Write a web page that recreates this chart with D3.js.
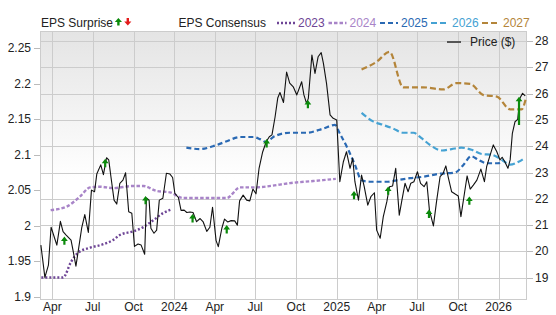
<!DOCTYPE html>
<html>
<head>
<meta charset="utf-8">
<script src="https://cdn.jsdelivr.net/npm/d3@7"></script>
<style>
  body { margin: 0; background: #fff; }
  text { font-family: "Liberation Sans", Arial, sans-serif; font-size: 12px; fill: #222; }
</style>
</head>
<body>
<svg id="chart" width="556" height="315"></svg>
<script>
// weekly closing price ($, right axis)
const priceData = [
  ["2023-03-06",20.24],["2023-03-15",19.01],["2023-03-23",19.48],["2023-03-29",20.92],["2023-04-06",20.50],
  ["2023-04-11",20.24],["2023-04-19",21.14],["2023-04-25",20.75],["2023-05-02",20.62],["2023-05-13",20.43],
  ["2023-05-18",19.99],["2023-05-24",19.44],["2023-05-29",19.99],["2023-06-06",20.89],["2023-06-13",21.40],
  ["2023-06-21",20.72],["2023-06-28",22.33],["2023-07-05",22.27],["2023-07-10",22.94],["2023-07-19",23.29],
  ["2023-07-25",22.92],["2023-08-01",23.56],["2023-08-06",23.48],["2023-08-11",22.83],["2023-08-18",21.95],
  ["2023-08-24",21.80],["2023-08-31",22.59],["2023-09-07",22.71],["2023-09-13",22.99],["2023-09-20",21.51],
  ["2023-09-27",21.45],["2023-10-03",20.19],["2023-10-11",20.28],["2023-10-18",20.24],["2023-10-26",19.89],
  ["2023-10-30",22.03],["2023-11-05",21.95],["2023-11-09",20.88],["2023-11-16",20.69],["2023-11-22",20.81],
  ["2023-11-28",21.95],["2023-12-06",22.02],["2023-12-14",22.97],["2023-12-22",22.94],["2023-12-28",22.81],
  ["2024-01-02",22.21],["2024-01-10",22.05],["2024-01-16",21.56],["2024-01-23",21.57],["2024-01-29",21.48],
  ["2024-02-05",21.50],["2024-02-12",21.48],["2024-02-20",21.13],["2024-02-28",21.25],["2024-03-06",21.12],
  ["2024-03-14",20.76],["2024-03-21",20.92],["2024-03-27",21.68],["2024-04-04",20.41],["2024-04-09",20.18],
  ["2024-04-17",20.88],["2024-04-23",21.23],["2024-04-30",21.12],["2024-05-08",21.17],["2024-05-16",21.16],
  ["2024-05-22",21.00],["2024-05-27",21.92],["2024-06-04",22.14],["2024-06-12",21.95],["2024-06-19",21.92],
  ["2024-06-26",22.37],["2024-07-03",22.19],["2024-07-10",23.17],["2024-07-18",23.78],["2024-07-26",24.17],
  ["2024-08-02",24.36],["2024-08-08",24.43],["2024-08-15",25.11],["2024-08-21",25.83],["2024-08-26",26.04],
  ["2024-09-03",25.66],["2024-09-10",26.82],["2024-09-17",26.40],["2024-09-25",26.26],["2024-10-03",25.95],
  ["2024-10-14",26.45],["2024-10-19",25.95],["2024-10-25",25.63],["2024-10-29",25.82],["2024-11-06",27.47],
  ["2024-11-13",26.77],["2024-11-20",27.40],["2024-11-27",27.56],["2024-12-02",27.15],["2024-12-09",26.39],
  ["2024-12-17",25.19],["2024-12-24",25.06],["2025-01-01",25.00],["2025-01-08",22.65],["2025-01-16",23.41],
  ["2025-01-23",23.79],["2025-01-31",23.16],["2025-02-06",23.54],["2025-02-11",22.65],["2025-02-19",21.95],
  ["2025-02-26",22.90],["2025-03-04",22.46],["2025-03-12",21.76],["2025-03-19",22.08],["2025-03-27",22.23],
  ["2025-04-01",20.81],["2025-04-09",20.50],["2025-04-16",21.32],["2025-04-24",21.89],["2025-04-30",22.46],
  ["2025-05-07",22.49],["2025-05-14",23.16],["2025-05-22",21.38],["2025-05-28",21.95],["2025-06-04",22.59],
  ["2025-06-11",22.27],["2025-06-17",22.59],["2025-06-24",22.65],["2025-07-02",23.03],["2025-07-09",22.59],
  ["2025-07-17",22.46],["2025-07-23",22.65],["2025-07-29",21.57],["2025-08-07",20.97],["2025-08-14",21.89],
  ["2025-08-22",22.84],["2025-08-29",22.97],["2025-09-04",23.25],["2025-09-10",22.78],["2025-09-17",22.27],
  ["2025-09-25",22.18],["2025-10-02",22.11],["2025-10-08",21.32],["2025-10-16",22.21],["2025-10-22",22.87],
  ["2025-10-29",22.37],["2025-11-05",22.52],["2025-11-13",22.71],["2025-11-22",23.13],["2025-11-30",22.65],
  ["2025-12-05",23.22],["2025-12-13",23.67],["2025-12-20",24.05],["2025-12-28",23.79],["2026-01-04",23.48],
  ["2026-01-09",23.58],["2026-01-15",23.41],["2026-01-22",23.16],["2026-01-27",23.48],["2026-02-01",24.49],
  ["2026-02-07",24.93],["2026-02-13",25.02],["2026-02-18",25.82],["2026-02-24",26.01],["2026-03-02",25.91]
]

// EPS consensus per fiscal year (left axis)
const eps2023 = [
  ["2023-03-07",1.927],["2023-04-25",1.927],["2023-05-13",1.949],["2023-05-29",1.962],["2023-06-25",1.969],
  ["2023-07-25",1.974],["2023-08-16",1.980],["2023-08-31",1.987],["2023-09-30",1.992],["2023-10-23",1.998],
  ["2023-11-15",2.008],["2023-12-07",2.018],["2023-12-26",2.023]
]
const eps2024 = [
  ["2023-03-28",2.022],["2023-05-03",2.027],["2023-06-02",2.041],["2023-06-25",2.054],["2023-07-17",2.055],
  ["2023-08-16",2.053],["2023-09-30",2.056],["2023-10-23",2.056],["2023-11-22",2.049],["2023-12-22",2.047],
  ["2024-01-21",2.039],["2024-02-28",2.039],["2024-04-28",2.039],["2024-05-28",2.054],["2024-06-27",2.054],
  ["2024-08-26",2.058],["2024-09-17",2.060],["2024-11-09",2.063],["2024-12-30",2.066]
]
const eps2025 = [
  ["2024-01-28",2.110],["2024-02-28",2.108],["2024-03-28",2.112],["2024-04-28",2.119],["2024-05-28",2.125],
  ["2024-06-27",2.125],["2024-07-12",2.122],["2024-07-26",2.118],["2024-08-11",2.125],["2024-09-02",2.130],
  ["2024-09-17",2.131],["2024-10-25",2.131],["2024-12-02",2.137],["2024-12-28",2.142],["2025-01-08",2.130],
  ["2025-01-27",2.107],["2025-02-11",2.086],["2025-02-26",2.064],["2025-03-17",2.062],["2025-04-24",2.062],
  ["2025-05-16",2.064],["2025-06-15",2.067],["2025-07-15",2.069],["2025-08-18",2.073],["2025-09-25",2.075],
  ["2025-10-14",2.086],["2025-10-31",2.098],["2025-11-16",2.093],["2025-12-05",2.088],["2025-12-31",2.088],
  ["2026-01-11",2.091]
]
const eps2026 = [
  ["2025-02-26",2.159],["2025-03-24",2.147],["2025-04-16",2.142],["2025-05-08",2.137],["2025-05-31",2.131],
  ["2025-06-23",2.131],["2025-07-12",2.123],["2025-07-30",2.114],["2025-08-26",2.106],["2025-09-17",2.108],
  ["2025-10-09",2.110],["2025-11-01",2.107],["2025-11-24",2.101],["2025-12-16",2.100],["2026-01-08",2.093],
  ["2026-01-27",2.086],["2026-02-15",2.090],["2026-03-02",2.096]
]
const eps2027 = [
  ["2025-02-26",2.220],["2025-04-01",2.231],["2025-04-30",2.245],["2025-05-31",2.195],["2025-07-15",2.195],
  ["2025-08-29",2.192],["2025-09-28",2.201],["2025-10-29",2.200],["2025-11-28",2.184],["2025-12-28",2.182],
  ["2026-01-27",2.164],["2026-02-22",2.164],["2026-03-04",2.181]
]

// EPS surprise markers: report date, arrow span in price units
const surprises = [
  ["2023-04-28",20.25,20.57,"up"],["2023-07-29",23.20,23.52,"up"],["2023-10-28",21.79,22.11,"up"],
  ["2024-02-11",21.10,21.42,"up"],["2024-04-28",20.68,21.00,"up"],["2024-07-27",23.95,24.27,"up"],
  ["2024-10-28",25.44,25.76,"up"],["2025-02-09",21.98,22.30,"up"],["2025-04-27",22.15,22.47,"up"],
  ["2025-07-28",21.27,21.59,"up"],["2025-10-27",21.77,22.09,"up"],["2026-02-16",24.81,25.88,"up"]
]

const leftTicks = [1.9, 1.95, 2, 2.05, 2.1, 2.15, 2.2, 2.25]
const rightTicks = [19, 20, 21, 22, 23, 24, 25, 26, 27, 28]
const timeTicks = ["2023-04-01","2023-07-01","2023-10-01","2024-01-01","2024-04-01","2024-07-01",
  "2024-10-01","2025-01-01","2025-04-01","2025-07-01","2025-10-01","2026-01-01"]
const timeLabels = ["Apr","Jul","Oct","2024","Apr","Jul","Oct","2025","Apr","Jul","Oct","2026"]
const seriesNames = ["2023", "2024", "2025", "2026", "2027"]

const parse = d3.timeParse("%Y-%m-%d")
const plot = { left: 40, right: 527, top: 31, bottom: 300 }

const x = d3.scaleTime()
  .domain([parse("2023-03-04"), parse("2026-03-06")])
  .range([plot.left, plot.right])
const yEps = d3.scaleLinear().domain([1.9, 2.25]).range([296.7, 48.3])
const yPrice = d3.scaleLinear().domain([19, 28]).range([277.7, 41])

const svg = d3.select('#chart')

// background gradient
const grad = svg.append('defs').append('linearGradient')
  .attr('id', 'bg').attr('x1', 0).attr('y1', 0).attr('x2', 0).attr('y2', 1)
grad.append('stop').attr('offset', '0%').attr('stop-color', '#e4e4e4')
grad.append('stop').attr('offset', '55%').attr('stop-color', '#ffffff')

svg.append('rect')
  .attr('x', plot.left).attr('y', plot.top)
  .attr('width', plot.right - plot.left).attr('height', plot.bottom - plot.top)
  .attr('fill', 'url(#bg)')

const grid = svg.append('g').attr('stroke', '#cccccc').attr('stroke-width', 1)
grid.selectAll('.h').data(rightTicks).enter().append('line')
  .attr('x1', plot.left).attr('x2', plot.right)
  .attr('y1', d => Math.round(yPrice(d)) + 0.5).attr('y2', d => Math.round(yPrice(d)) + 0.5)
grid.selectAll('.v').data(timeTicks).enter().append('line')
  .attr('y1', plot.top).attr('y2', plot.bottom)
  .attr('x1', d => Math.round(x(parse(d))) + 0.5).attr('x2', d => Math.round(x(parse(d))) + 0.5)
grid.append('rect')
  .attr('x', plot.left + 0.5).attr('y', plot.top + 0.5)
  .attr('width', plot.right - plot.left - 1).attr('height', plot.bottom - plot.top - 1)
  .attr('fill', 'none')

// left axis (EPS)
const leftAxis = svg.append('g')
leftAxis.selectAll('line').data(leftTicks).enter().append('line')
  .attr('x1', 34).attr('x2', plot.left)
  .attr('y1', d => Math.round(yEps(d)) + 0.5).attr('y2', d => Math.round(yEps(d)) + 0.5)
  .attr('stroke', '#bbbbbb')
leftAxis.selectAll('text').data(leftTicks).enter().append('text')
  .attr('x', 31).attr('y', d => yEps(d) + 4)
  .attr('text-anchor', 'end')
  .text(d => d3.format('')(d))

// right axis (price)
const rightAxis = svg.append('g')
rightAxis.selectAll('line').data(rightTicks).enter().append('line')
  .attr('x1', plot.right).attr('x2', 533)
  .attr('y1', d => Math.round(yPrice(d)) + 0.5).attr('y2', d => Math.round(yPrice(d)) + 0.5)
  .attr('stroke', '#bbbbbb')
rightAxis.selectAll('text').data(rightTicks).enter().append('text')
  .attr('x', 535).attr('y', d => yPrice(d) + 4)
  .text(d => d)

// time axis
svg.append('g').selectAll('text').data(timeTicks).enter().append('text')
  .attr('x', d => x(parse(d))).attr('y', 311)
  .attr('text-anchor', 'middle')
  .text((d, i) => timeLabels[i])

// consensus lines
const styles = {
  "2023": { color: '#6e4596', dash: '2,2', width: 2.4 },
  "2024": { color: '#a884c8', dash: '3.5,2', width: 2.4 },
  "2025": { color: '#2a69b3', dash: '5,3', width: 2.2 },
  "2026": { color: '#45a2d3', dash: '6,3', width: 2.2 },
  "2027": { color: '#b4853a', dash: '6,3', width: 2.2 }
}
const epsSeries = [eps2023, eps2024, eps2025, eps2026, eps2027]
const epsLine = d3.line()
  .x(d => x(parse(d[0])))
  .y(d => yEps(d[1]))
  .curve(d3.curveMonotoneX)

const clip = svg.append('defs').append('clipPath').attr('id', 'plotClip')
clip.append('rect').attr('x', plot.left).attr('y', plot.top)
  .attr('width', plot.right - plot.left).attr('height', plot.bottom - plot.top)

const lines = svg.append('g').attr('clip-path', 'url(#plotClip)')
epsSeries.forEach((s, i) => {
  const st = styles[seriesNames[i]]
  lines.append('path')
    .attr('d', epsLine(s))
    .attr('fill', 'none')
    .attr('stroke', st.color)
    .attr('stroke-width', st.width)
    .attr('stroke-dasharray', st.dash)
})

// price line
const priceLine = d3.line()
  .x(d => x(parse(d[0])))
  .y(d => yPrice(d[1]))
lines.append('path')
  .attr('d', priceLine(priceData))
  .attr('fill', 'none')
  .attr('stroke', '#111')
  .attr('stroke-width', 1.1)
  .attr('stroke-linejoin', 'round')

// arrows
function arrowPath(cx, yTip, yTail, hw, hh, sw) {
  const dir = yTail > yTip ? 1 : -1
  const h = hh * dir
  return 'M' + cx + ',' + yTip +
    'L' + (cx + hw) + ',' + (yTip + h) +
    'L' + (cx + sw) + ',' + (yTip + h) +
    'L' + (cx + sw) + ',' + yTail +
    'L' + (cx - sw) + ',' + yTail +
    'L' + (cx - sw) + ',' + (yTip + h) +
    'L' + (cx - hw) + ',' + (yTip + h) + 'Z'
}
svg.append('g').selectAll('path').data(surprises).enter().append('path')
  .attr('d', d => {
    const cx = x(parse(d[0]))
    return d[3] === 'up'
      ? arrowPath(cx, yPrice(d[2]), yPrice(d[1]), 3.4, 4.5, 1.1)
      : arrowPath(cx, yPrice(d[1]), yPrice(d[2]), 3.4, 4.5, 1.1)
  })
  .attr('fill', d => d[3] === 'up' ? '#0b8a0b' : '#e31b1b')

// legend
const legend = svg.append('g')
legend.append('text').attr('x', 41).attr('y', 27).text('EPS Surprise')
legend.append('path').attr('d', arrowPath(118.4, 18, 25.5, 3.6, 4, 1.2)).attr('fill', '#0b8a0b')
legend.append('path').attr('d', arrowPath(127.8, 25.5, 18, 3.6, 4, 1.2)).attr('fill', '#e31b1b')
legend.append('text').attr('x', 178.5).attr('y', 27).text('EPS Consensus')

const legendX = [277, 328.5, 380, 431, 482]
seriesNames.forEach((name, i) => {
  const st = styles[name]
  legend.append('line')
    .attr('x1', legendX[i]).attr('x2', legendX[i] + 18)
    .attr('y1', 23).attr('y2', 23)
    .attr('stroke', st.color).attr('stroke-width', st.width)
    .attr('stroke-dasharray', st.dash)
  legend.append('text')
    .attr('x', legendX[i] + 21).attr('y', 27)
    .style('fill', st.color)
    .text(name)
})

legend.append('line')
  .attr('x1', 447).attr('x2', 461).attr('y1', 42).attr('y2', 42)
  .attr('stroke', '#555').attr('stroke-width', 2)
legend.append('text').attr('x', 470).attr('y', 46).text('Price ($)')
</script>
</body>
</html>
